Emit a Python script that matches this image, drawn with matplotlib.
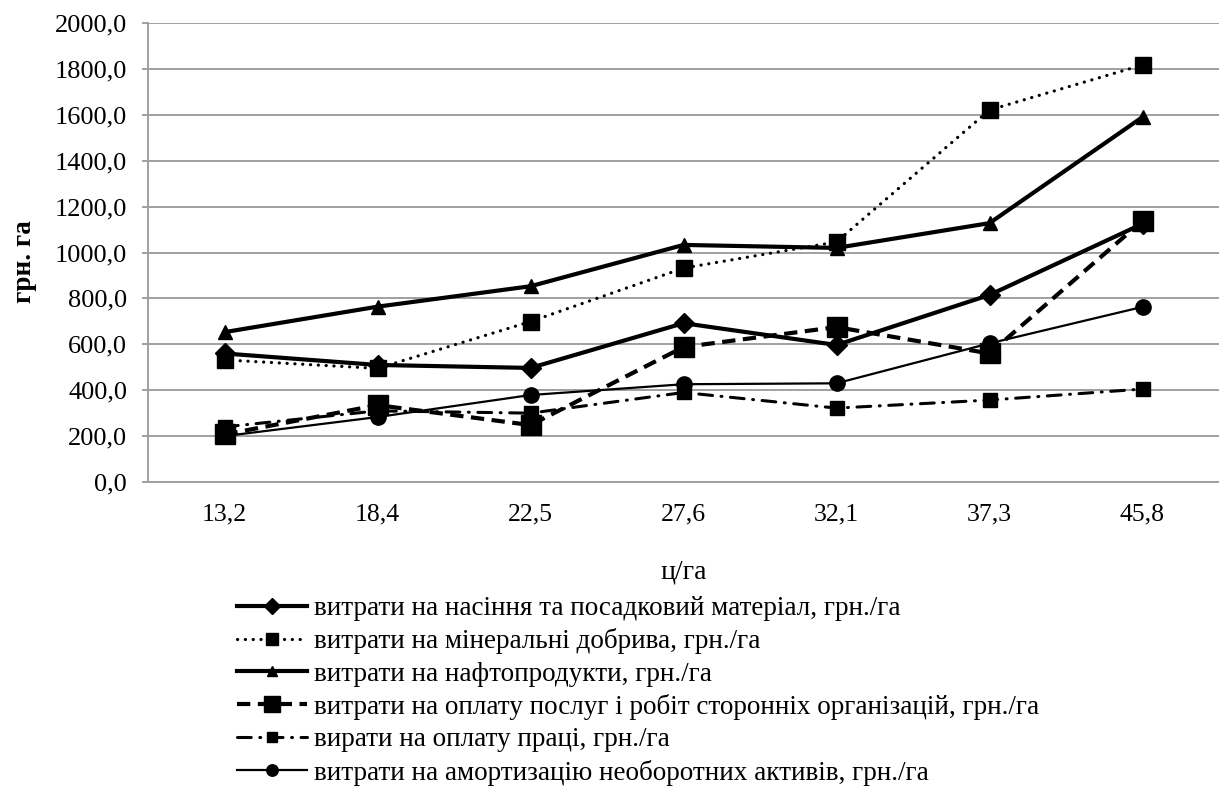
import matplotlib
matplotlib.use("Agg")
import matplotlib.pyplot as plt

plt.rcParams['font.family'] = ['Liberation Serif', 'DejaVu Serif']

categories = ["13,2", "18,4", "22,5", "27,6", "32,1", "37,3", "45,8"]
seeds = [560, 510, 497, 692, 597, 815, 1125]
fertilizers = [532, 495, 699, 932, 1046, 1621, 1817]
fuel = [653, 764, 853, 1033, 1020, 1128, 1590]
services = [207, 335, 248, 588, 675, 560, 1138]
wages = [240, 310, 300, 390, 322, 357, 405]
amortization = [200, 283, 379, 426, 430, 604, 763]

labels = [
    "витрати на насіння та посадковий матеріал, грн./га",
    "витрати на мінеральні добрива, грн./га",
    "витрати на нафтопродукти, грн./га",
    "витрати на оплату послуг і робіт сторонніх організацій, грн./га",
    "вирати на оплату праці, грн./га",
    "витрати на амортизацію необоротних активів, грн./га",
]
y_ticks = [0, 200, 400, 600, 800, 1000, 1200, 1400, 1600, 1800, 2000]
x_label = "ц/га"
y_label = "грн. га"

W, H = 1219, 787
fig = plt.figure(figsize=(W / 100, H / 100), dpi=100)
ax = fig.add_axes([148 / W, 1 - 482 / H, (1219 - 148) / W, (482 - 23) / H])

x = list(range(len(categories)))

l1, = ax.plot(x, seeds, color='black', lw=3, marker='D', ms=10.5, zorder=5)
l2, = ax.plot(x, fertilizers, color='black', lw=2.3, linestyle=(0, (0.05, 2.4)),
              dash_capstyle='round', marker='s', ms=11, zorder=4)
l3, = ax.plot(x, fuel, color='black', lw=3, marker='^', ms=10, zorder=5)
l4, = ax.plot(x, services, color='black', lw=3, linestyle=(0, (3.2, 1.8)),
              marker='s', ms=14.5, zorder=4)
l5, = ax.plot(x, wages, color='black', lw=2.2, linestyle=(0, (4.5, 2.8, 0.3, 2.8)),
              dash_capstyle='round', marker='s', ms=9.5, zorder=4)
l6, = ax.plot(x, amortization, color='black', lw=1.6, marker='o', ms=11, zorder=4)

ax.set_xlim(-0.5, len(categories) - 0.5)
ax.set_ylim(0, 2000)
ax.set_yticks(y_ticks)
ax.set_yticklabels([f"{v:.1f}".replace('.', ',') for v in y_ticks], fontsize=19)
ax.set_xticks(x)
ax.set_xticklabels(categories, fontsize=18.5)

ax.grid(axis='y', color='#a0a0a0', lw=1.4, zorder=0)
ax.set_axisbelow(True)
for s in ['top', 'right']:
    ax.spines[s].set_visible(False)
for s in ['left', 'bottom']:
    ax.spines[s].set_color('#a0a0a0')
    ax.spines[s].set_linewidth(1.4)
ax.tick_params(axis='y', length=4, color='#a0a0a0', width=1.4, pad=11)
ax.tick_params(axis='x', length=0, pad=15.6)

ax.set_xlabel(x_label, fontsize=20)
ax.xaxis.set_label_coords(0.5, -0.168)
ax.set_ylabel(y_label, fontsize=19.5, fontweight='bold')
ax.yaxis.set_label_coords(-0.104, 0.481)

fig.legend([l1, l2, l3, l4, l5, l6], labels, loc='upper left',
           bbox_to_anchor=(237 / W, 1 - 596 / H), frameon=False, fontsize=19.5,
           handlelength=2.6, handletextpad=0.26, labelspacing=0.27,
           borderaxespad=0, borderpad=0, markerscale=0.75)

fig.savefig("out.png", dpi=100)
